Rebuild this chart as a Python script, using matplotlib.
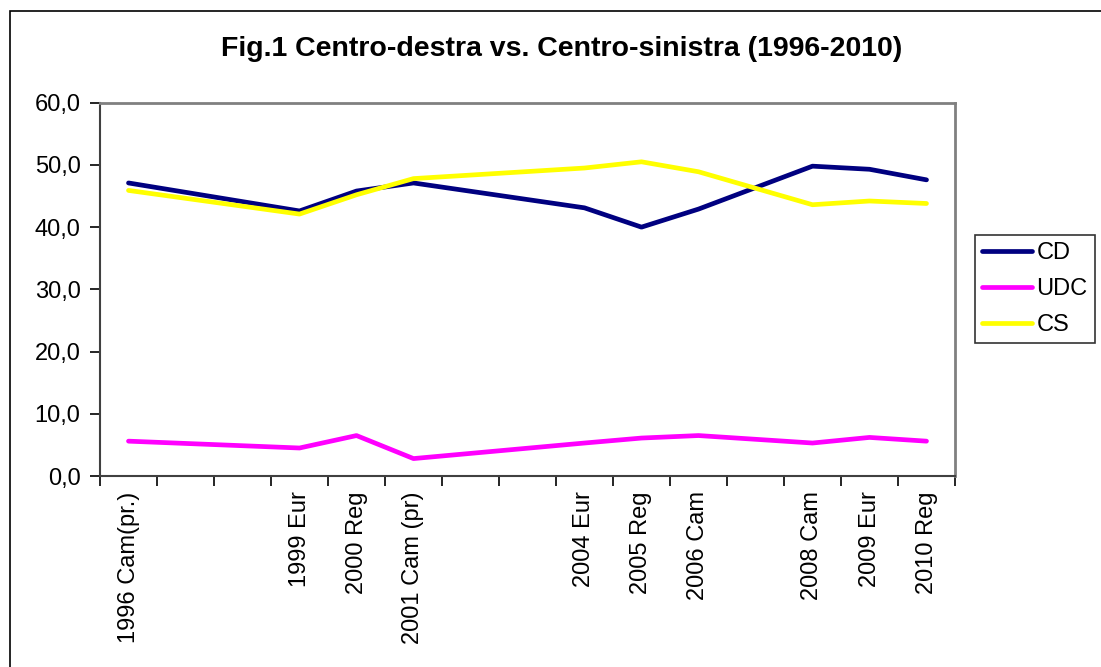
"""
Fig.1 Centro-destra vs. Centro-sinistra (1996-2010), Excel-style line chart.
"""

import numpy as np
import matplotlib.pyplot as plt
from matplotlib.patches import Rectangle

years = [1996, 1999, 2000, 2001, 2004, 2005, 2006, 2008, 2009, 2010]
labels = ["1996 Cam(pr.)", "1999 Eur", "2000 Reg", "2001 Cam (pr)", "2004 Eur",
          "2005 Reg", "2006 Cam", "2008 Cam", "2009 Eur", "2010 Reg"]

cd = [47.1, 42.6, 45.8, 47.1, 43.1, 40.0, 42.9, 49.8, 49.3, 47.6]
udc = [5.6, 4.5, 6.5, 2.8, 5.3, 6.1, 6.5, 5.3, 6.2, 5.6]
cs = [45.9, 42.1, 45.2, 47.8, 49.5, 50.5, 48.9, 43.6, 44.2, 43.8]

series = [("CD", cd, "#000080"), ("UDC", udc, "#ff00ff"), ("CS", cs, "#ffff00")]


def main():
    plt.rcParams["font.family"] = ["Liberation Sans", "DejaVu Sans"]
    fig = plt.figure(figsize=(11.01, 6.67), dpi=100)

    # chart area border
    fig.patches.append(Rectangle((10 / 1101, -0.05), 1.2, 1 - 11 / 667 + 0.05,
                                 transform=fig.transFigure, fill=False,
                                 edgecolor="black", linewidth=1.2))

    ax = fig.add_axes([100 / 1101, 1 - 476 / 667, 855 / 1101, (476 - 102.7) / 667])

    handles = []
    for name, vals, col in series:
        h, = ax.plot(years, vals, color=col, linewidth=3.4, label=name,
                     solid_capstyle="round", solid_joinstyle="round")
        handles.append(h)

    ax.set_ylim(0, 60)
    ax.set_yticks(np.arange(0, 61, 10))
    ax.set_yticklabels([f"{v:.1f}".replace(".", ",") for v in np.arange(0, 61, 10)])
    ax.set_xlim(1995.5, 2010.5)
    ax.set_xticks(years)
    ax.set_xticklabels(labels, rotation=90, va="top", ha="center")
    ax.set_xticks(np.arange(1995.5, 2011, 1), minor=True)
    ax.tick_params(axis="x", which="major", length=0, pad=11, labelsize=17)
    ax.tick_params(axis="x", which="minor", length=7, width=1.2, color="black",
                   direction="out")
    ax.tick_params(axis="y", length=7, width=1.2, color="black", labelsize=17,
                   pad=7)

    for side in ["top", "right"]:
        ax.spines[side].set_color("#808080")
        ax.spines[side].set_linewidth(2)
    for side in ["left", "bottom"]:
        ax.spines[side].set_color("#404040")
        ax.spines[side].set_linewidth(1.5)

    fig.text(562 / 1101, 1 - 49 / 667, "Fig.1 Centro-destra vs. Centro-sinistra (1996-2010)",
             ha="center", va="center", fontsize=20.5, fontweight="bold")

    leg = fig.legend(handles=handles, loc="upper left",
                     bbox_to_anchor=(975 / 1101, 1 - 235 / 667),
                     fontsize=17, frameon=True, fancybox=False, handlelength=2.1,
                     handletextpad=0.2, borderpad=0.3, labelspacing=0.6,
                     borderaxespad=0)
    leg.get_frame().set_edgecolor("black")
    leg.get_frame().set_linewidth(1.2)

    fig.savefig("out.png", dpi=100)


if __name__ == "__main__":
    main()
